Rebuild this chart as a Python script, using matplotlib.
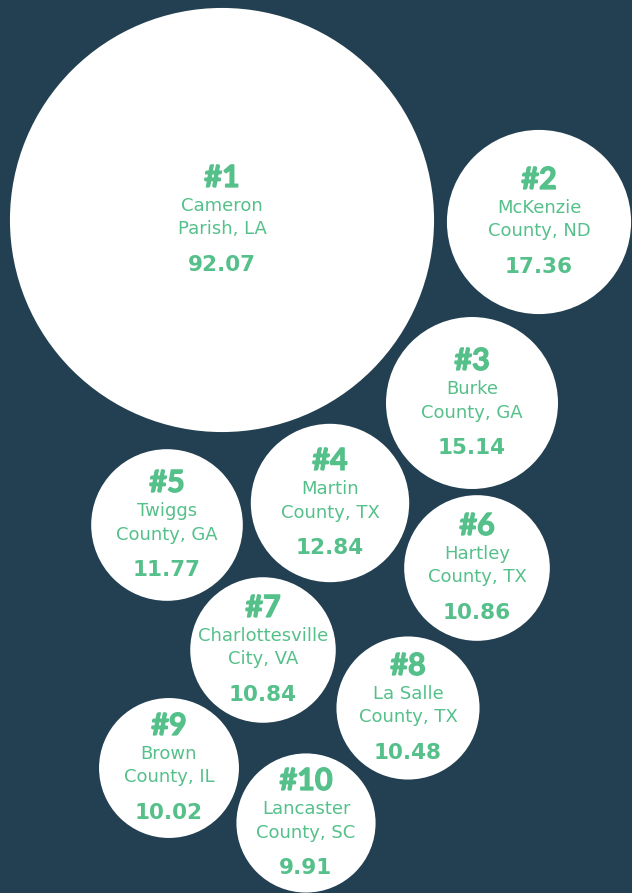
import numpy as np
import matplotlib
matplotlib.use('Agg')
import matplotlib.pyplot as plt
import matplotlib.patheffects as pe
from matplotlib.patches import Circle

ranks = ['#1', '#2', '#3', '#4', '#5', '#6', '#7', '#8', '#9', '#10']
name_top = ['Cameron', 'McKenzie', 'Burke', 'Martin', 'Twiggs', 'Hartley',
            'Charlottesville', 'La Salle', 'Brown', 'Lancaster']
name_bottom = ['Parish, LA', 'County, ND', 'County, GA', 'County, TX', 'County, GA',
               'County, TX', 'City, VA', 'County, TX', 'County, IL', 'County, SC']
values = [92.07, 17.36, 15.14, 12.84, 11.77, 10.86, 10.84, 10.48, 10.02, 9.91]

# bubble layout (pixel centres)
cx = [222, 539, 472, 330, 167, 477, 263, 408, 169, 306]
cy = [220, 222, 403, 503, 525, 568, 650, 708, 768, 823]

BG = '#234052'
GREEN = '#55c08a'
SCALE = 22.1  # px per sqrt(value)

fig = plt.figure(figsize=(6.32, 8.93), dpi=100, facecolor=BG)
ax = fig.add_axes([0, 0, 1, 1])
ax.set_facecolor(BG)
ax.set_xlim(0, 632)
ax.set_ylim(893, 0)
ax.set_aspect('equal')
ax.axis('off')

heavy = [pe.Stroke(linewidth=0.9, foreground=GREEN), pe.Normal()]

for rk, n1, n2, v, x, y in zip(ranks, name_top, name_bottom, values, cx, cy):
    r = SCALE * np.sqrt(v)
    ax.add_patch(Circle((x, y), r, facecolor='white', edgecolor='none'))
    ax.text(x, y - 33, rk, ha='center', va='baseline', color=GREEN,
            fontsize=22, fontweight='bold', family='Lato', path_effects=heavy)
    ax.text(x, y - 9, n1, ha='center', va='baseline', color=GREEN,
            fontsize=13, family='DejaVu Sans')
    ax.text(x, y + 14.5, n2, ha='center', va='baseline', color=GREEN,
            fontsize=13, family='DejaVu Sans')
    ax.text(x, y + 51, f'{v:.2f}', ha='center', va='baseline', color=GREEN,
            fontsize=15.5, fontweight='bold', family='DejaVu Sans')

fig.savefig('out.png', dpi=100, facecolor=BG)
